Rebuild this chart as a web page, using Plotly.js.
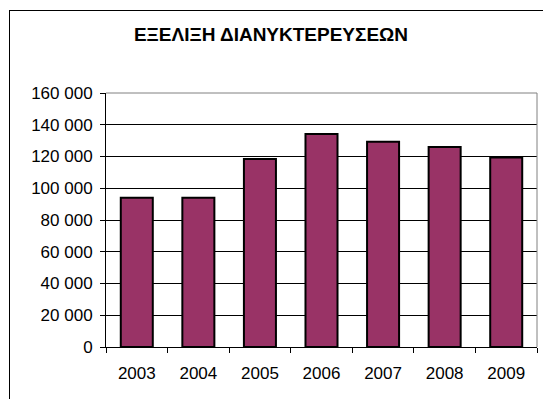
<!DOCTYPE html>
<html>
<head>
<meta charset="utf-8">
<script src="https://cdn.plot.ly/plotly-3.0.1.min.js"></script>
<style>
  html, body { margin: 0; padding: 0; background: #fff; overflow: hidden; }
  #wrap { position: relative; width: 543px; height: 399px; overflow: hidden; }
  #chart { position: absolute; left: 0; top: 0; width: 543px; height: 399px; }
  #frame { position: absolute; left: 9px; top: 10px; width: 560px; height: 420px; border: 1px solid #000; pointer-events: none; box-sizing: border-box; }
</style>
</head>
<body>
<div id="wrap">
  <div id="chart"></div>
  <div id="frame"></div>
</div>
<script>
const years = ['2003', '2004', '2005', '2006', '2007', '2008', '2009'];
const overnights = [94000, 94000, 118400, 134200, 129300, 126000, 119300];
const titleText = 'ΕΞΕΛΙΞΗ ΔΙΑΝΥΚΤΕΡΕΥΣΕΩΝ';
const yTicks = [0, 20000, 40000, 60000, 80000, 100000, 120000, 140000, 160000];

const trace = {
  type: 'bar',
  x: years,
  y: overnights,
  marker: { color: '#993366', line: { color: '#000000', width: 2 } },
  hoverinfo: 'none'
};

const layout = {
  width: 543,
  height: 399,
  margin: { l: 106, r: 6, t: 93, b: 52, pad: 0 },
  paper_bgcolor: 'rgba(0,0,0,0)',
  plot_bgcolor: '#ffffff',
  separators: ', ',
  font: { family: 'Arial, "Liberation Sans", sans-serif', size: 17, color: '#000' },
  title: {
    text: '<b>' + titleText + '</b>',
    font: { family: 'Arial, "Liberation Sans", sans-serif', size: 19, color: '#000' },
    xref: 'container', yref: 'container',
    x: 271 / 543, xanchor: 'center',
    y: 1 - 34.5 / 399, yanchor: 'middle'
  },
  bargap: 0.48,
  showlegend: false,
  xaxis: {
    type: 'category',
    showline: true, linecolor: '#000', linewidth: 1,
    ticks: 'outside', tickson: 'boundaries', ticklen: 5, tickcolor: '#000', tickwidth: 1,
    ticklabelstandoff: 11,
    showgrid: false, zeroline: false,
    tickfont: { size: 17 },
    fixedrange: true
  },
  yaxis: {
    range: [0, 160000],
    tickvals: yTicks,
    tickformat: ',d',
    showline: true, linecolor: '#000', linewidth: 1,
    ticks: 'outside', ticklen: 5, tickcolor: '#000', tickwidth: 1,
    ticklabelstandoff: 4,
    showgrid: true, gridcolor: '#000', gridwidth: 1,
    zeroline: false,
    tickfont: { size: 17 },
    fixedrange: true
  },
  shapes: [
    { type: 'line', xref: 'paper', yref: 'paper', x0: 0, x1: 1, y0: 1, y1: 1, line: { color: '#808080', width: 1 }, layer: 'above' },
    { type: 'line', xref: 'paper', yref: 'paper', x0: 1, x1: 1, y0: 0, y1: 1, line: { color: '#808080', width: 1 }, layer: 'above' }
  ]
};

Plotly.newPlot('chart', [trace], layout, { staticPlot: true, displayModeBar: false });
</script>
</body>
</html>
